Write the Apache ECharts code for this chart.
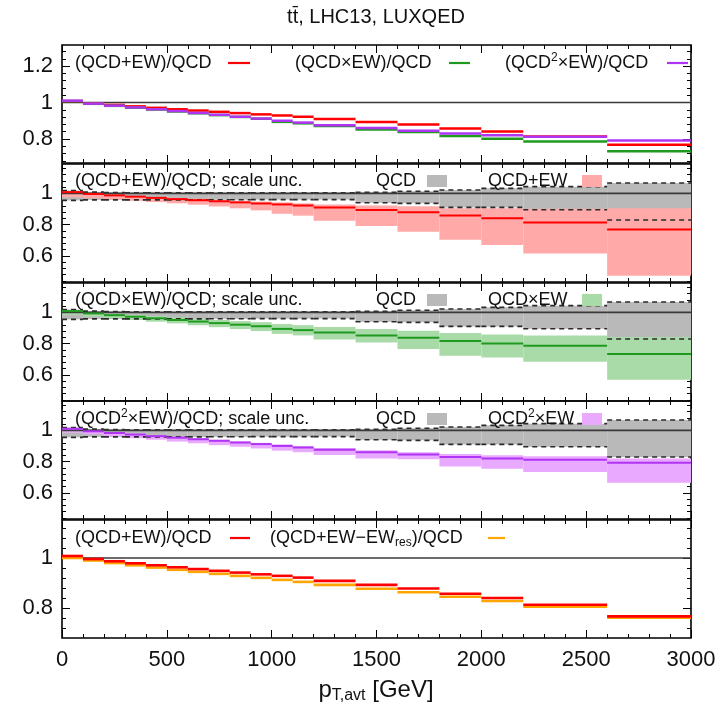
<!DOCTYPE html>
<html>
<head>
<meta charset="utf-8">
<script src="https://cdn.jsdelivr.net/npm/echarts@6/dist/echarts.min.js"></script>
<style>
html, body { margin: 0; padding: 0; background: #fff; }
#chart { width: 726px; height: 710px; }
</style>
</head>
<body>
<div id="chart"></div>
<script>
// bin edges, GeV
var edges = [0, 100, 200, 300, 400, 500, 600, 700, 800, 900, 1000, 1100, 1200, 1400, 1600, 1800, 2000, 2200, 2600, 3000];

// central ratios
var qcdEw     = [1.008, 0.996, 0.987, 0.979, 0.971, 0.963, 0.956, 0.949, 0.942, 0.935, 0.929, 0.922, 0.909, 0.893, 0.879, 0.858, 0.841, 0.814, 0.768];
var qcdxEw    = [1.008, 0.993, 0.982, 0.972, 0.962, 0.951, 0.941, 0.931, 0.921, 0.911, 0.894, 0.886, 0.871, 0.852, 0.838, 0.816, 0.801, 0.786, 0.733];
var qcd2xEw   = [1.010, 0.994, 0.983, 0.973, 0.963, 0.953, 0.943, 0.933, 0.922, 0.912, 0.900, 0.890, 0.875, 0.860, 0.845, 0.830, 0.820, 0.812, 0.792];
var qcdEwNoRes = [1.000, 0.990, 0.980, 0.971, 0.962, 0.953, 0.945, 0.937, 0.929, 0.921, 0.913, 0.905, 0.893, 0.878, 0.864, 0.846, 0.829, 0.806, 0.763];

// QCD scale band (relative to QCD)
var qcdHi = [1.018, 1.008, 1.005, 1.004, 1.004, 1.004, 1.004, 1.004, 1.004, 1.004, 1.004, 1.004, 1.004, 1.006, 1.013, 1.021, 1.032, 1.043, 1.066];
var qcdLo = [0.955, 0.958, 0.958, 0.958, 0.958, 0.958, 0.958, 0.959, 0.959, 0.960, 0.960, 0.960, 0.960, 0.940, 0.936, 0.910, 0.910, 0.895, 0.829];

// scale bands of the combinations
var ewHi  = [1.005, 0.995, 0.989, 0.983, 0.977, 0.971, 0.965, 0.959, 0.953, 0.947, 0.942, 0.936, 0.928, 0.922, 0.918, 0.905, 0.905, 0.902, 0.904];
var ewLo  = [0.975, 0.968, 0.960, 0.952, 0.944, 0.936, 0.927, 0.916, 0.904, 0.891, 0.869, 0.857, 0.825, 0.790, 0.754, 0.703, 0.669, 0.615, 0.472];
var xHi   = [1.012, 1.000, 0.992, 0.984, 0.976, 0.968, 0.960, 0.952, 0.944, 0.937, 0.925, 0.918, 0.906, 0.893, 0.882, 0.868, 0.858, 0.852, 0.842];
var xLo   = [0.985, 0.972, 0.962, 0.951, 0.940, 0.929, 0.917, 0.905, 0.893, 0.880, 0.862, 0.852, 0.826, 0.806, 0.765, 0.722, 0.710, 0.684, 0.568];
var x2Hi  = [1.015, 1.000, 0.990, 0.980, 0.970, 0.960, 0.950, 0.940, 0.930, 0.920, 0.910, 0.900, 0.887, 0.873, 0.860, 0.848, 0.840, 0.834, 0.820];
var x2Lo  = [0.985, 0.975, 0.962, 0.950, 0.940, 0.928, 0.917, 0.905, 0.895, 0.884, 0.870, 0.860, 0.842, 0.820, 0.815, 0.768, 0.754, 0.733, 0.665];

// tick labels
var p1Ticks = [0.8, 1, 1.2];
var pMidTicks = [0.6, 0.8, 1];
var p5Ticks = [0.8, 1];
var refLine = 1;

var FONT = '"Liberation Sans", Arial, Helvetica, sans-serif';
var RED = '#ff0000', RED_B = '#ffa9a9';
var GREEN = '#1e9a1e', GREEN_B = '#a9dba9';
var PURPLE = '#b034f4', PURPLE_B = '#e9a9ff';
var GRAY_B = '#b9b9b9', ORANGE = '#ffa500';

var tops = [45, 164, 283, 401, 520];
var H = 118;
var yRange = [[0.668, 1.316], [0.432, 1.188], [0.432, 1.188], [0.432, 1.188], [0.682, 1.151]];
var yMajor = [p1Ticks, pMidTicks, pMidTicks, pMidTicks, p5Ticks];

function minorTicks(lo, hi, major) {
  var out = [];
  for (var k = Math.ceil(lo / 0.04 - 1e-9); k * 0.04 <= hi + 1e-9; k++) {
    var v = +(k * 0.04).toFixed(2);
    if (major.indexOf(v) < 0) out.push(v);
  }
  return out;
}

var grid = [], xAxis = [], yAxis = [], series = [];
var tickStyle = { color: '#000', width: 1 };

for (var i = 0; i < 5; i++) {
  grid.push({ left: 62, right: 35, top: tops[i], height: H, show: true,
    borderColor: '#000', borderWidth: 1.6, backgroundColor: 'transparent' });
  ['bottom', 'top'].forEach(function (pos) {
    xAxis.push({
      gridIndex: i, type: 'value', position: pos, min: 0, max: 3000, interval: 500,
      axisLine: { show: false }, splitLine: { show: false },
      axisTick: { show: true, inside: true, length: 8, lineStyle: tickStyle },
      minorTick: { show: true, splitNumber: 5, length: 4, lineStyle: tickStyle },
      axisLabel: { show: i === 4 && pos === 'bottom', fontSize: 22, color: '#111', fontFamily: FONT, margin: 11,
        formatter: function (v) { return String(v); } }
    });
  });
  var mn = minorTicks(yRange[i][0], yRange[i][1], yMajor[i]);
  ['left', 'right'].forEach(function (pos) {
    yAxis.push({
      gridIndex: i, type: 'value', position: pos, min: yRange[i][0], max: yRange[i][1],
      axisLine: { show: false }, splitLine: { show: false },
      axisTick: { show: true, inside: true, length: 8, customValues: yMajor[i], lineStyle: tickStyle },
      axisLabel: { show: pos === 'left', customValues: yMajor[i], fontSize: 22, color: '#111', fontFamily: FONT, margin: 9,
        formatter: function (v) { return String(+v.toFixed(2)); } }
    });
    yAxis.push({
      gridIndex: i, type: 'value', position: pos, min: yRange[i][0], max: yRange[i][1],
      axisLine: { show: false }, splitLine: { show: false },
      axisTick: { show: true, inside: true, length: 4, customValues: mn, lineStyle: tickStyle },
      axisLabel: { show: false }
    });
  });
}

function segSeries(g, vals, color, width, dash, z) {
  return {
    type: 'custom', xAxisIndex: 2 * g, yAxisIndex: 4 * g, z: z, silent: true, clip: true,
    data: vals.map(function (v, k) { return [edges[k], edges[k + 1], v]; }),
    renderItem: function (params, api) {
      var a = api.coord([api.value(0), api.value(2)]);
      var b = api.coord([api.value(1), api.value(2)]);
      return { type: 'line', shape: { x1: a[0], y1: a[1], x2: b[0], y2: b[1] },
        style: { stroke: color, lineWidth: width, lineDash: dash || null } };
    }
  };
}

function bandSeries(g, lo, hi, color, z) {
  return {
    type: 'custom', xAxisIndex: 2 * g, yAxisIndex: 4 * g, z: z, silent: true, clip: true,
    data: lo.map(function (v, k) { return [edges[k], edges[k + 1], v, hi[k]]; }),
    renderItem: function (params, api) {
      var p1 = api.coord([api.value(0), api.value(3)]);
      var p2 = api.coord([api.value(1), api.value(2)]);
      return { type: 'rect', shape: { x: p1[0], y: p1[1], width: p2[0] - p1[0], height: p2[1] - p1[1] },
        style: { fill: color } };
    }
  };
}

function unity(g) {
  return { type: 'line', xAxisIndex: 2 * g, yAxisIndex: 4 * g, z: 4, silent: true, symbol: 'none',
    data: [[edges[0], refLine], [edges[edges.length - 1], refLine]],
    lineStyle: { color: '#3a3a3a', width: 1.6 } };
}

// panel 1
series.push(unity(0));
series.push(segSeries(0, qcdEw, RED, 2.5, null, 5));
series.push(segSeries(0, qcdxEw, GREEN, 2.5, null, 5));
series.push(segSeries(0, qcd2xEw, PURPLE, 2.5, null, 6));

// panels 2-4
var mids = [[ewLo, ewHi, qcdEw, RED, RED_B], [xLo, xHi, qcdxEw, GREEN, GREEN_B], [x2Lo, x2Hi, qcd2xEw, PURPLE, PURPLE_B]];
mids.forEach(function (m, j) {
  var g = j + 1;
  series.push(bandSeries(g, qcdLo, qcdHi, GRAY_B, 1));
  series.push(bandSeries(g, m[0], m[1], m[4], 2));
  series.push(unity(g));
  series.push(segSeries(g, qcdHi, '#2a2a2a', 1.6, [5, 4], 3));
  series.push(segSeries(g, qcdLo, '#2a2a2a', 1.6, [5, 4], 3));
  series.push(segSeries(g, m[2], m[3], 2, null, 5));
});

// panel 5
series.push(unity(4));
series.push(segSeries(4, qcdEwNoRes, ORANGE, 2.6, null, 5));
series.push(segSeries(4, qcdEw, RED, 2.6, null, 6));

// legends and titles
var rich = {
  sup: { fontSize: 12, lineHeight: 12, verticalAlign: 'top', fontFamily: FONT, fill: '#111' },
  sub: { fontSize: 12, lineHeight: 12, verticalAlign: 'bottom', fontFamily: FONT, fill: '#111' }
};
function txt(x, y, s, size, align) {
  return { type: 'text', x: x, y: y, z: 100, silent: true,
    style: { text: s, fontSize: size || 18, fontFamily: FONT, fill: '#111', lineHeight: 22,
      align: align || 'left', verticalAlign: 'middle', rich: rich } };
}
function lineKey(x1, x2, y, color) {
  return { type: 'line', z: 100, silent: true, shape: { x1: x1, y1: y, x2: x2, y2: y }, style: { stroke: color, lineWidth: 2.2 } };
}
function boxKey(x1, x2, y, color) {
  return { type: 'rect', z: 100, silent: true, shape: { x: x1, y: y - 6, width: x2 - x1, height: 12 }, style: { fill: color } };
}

var graphic = [
  { type: 'text', x: 376, y: 17, z: 100, silent: true,
    style: { text: 'tt\u0304, LHC13, LUXQED', fontSize: 20, fontFamily: FONT, fill: '#111', align: 'center', verticalAlign: 'middle' } },
  { type: 'text', x: 376, y: 690, z: 100, silent: true,
    style: { text: 'p{s|T,avt} [GeV]', fontSize: 24, fontFamily: FONT, fill: '#111', lineHeight: 28, align: 'center', verticalAlign: 'middle',
      rich: { s: { fontSize: 16, lineHeight: 16, verticalAlign: 'bottom', fontFamily: FONT, fill: '#111' } } } },

  txt(75, 63, '(QCD+EW)/QCD'), lineKey(228, 250, 63, RED),
  txt(295, 63, '(QCD\u00d7EW)/QCD'), lineKey(449, 470, 63, GREEN),
  txt(505, 63, '(QCD{sup|2}\u00d7EW)/QCD'), lineKey(667, 688, 63, PURPLE),

  txt(75, 181, '(QCD+EW)/QCD; scale unc.'), txt(376, 181, 'QCD'), boxKey(427, 447, 181, GRAY_B),
  txt(488, 181, 'QCD+EW'), boxKey(582, 602, 181, RED_B),

  txt(75, 300, '(QCD\u00d7EW)/QCD; scale unc.'), txt(376, 300, 'QCD'), boxKey(427, 447, 300, GRAY_B),
  txt(488, 300, 'QCD\u00d7EW'), boxKey(582, 602, 300, GREEN_B),

  txt(75, 419, '(QCD{sup|2}\u00d7EW)/QCD; scale unc.'), txt(376, 419, 'QCD'), boxKey(427, 447, 419, GRAY_B),
  txt(488, 419, 'QCD{sup|2}\u00d7EW'), boxKey(582, 602, 419, PURPLE_B),

  txt(75, 538, '(QCD+EW)/QCD'), lineKey(230, 250, 538, RED),
  txt(270, 538, '(QCD+EW\u2212EW{sub|res})/QCD'), lineKey(488, 505, 538, ORANGE)
];

var chart = echarts.init(document.getElementById('chart'));
chart.setOption({
  animation: false,
  backgroundColor: '#fff',
  grid: grid, xAxis: xAxis, yAxis: yAxis, series: series,
  graphic: graphic
});
</script>
</body>
</html>
